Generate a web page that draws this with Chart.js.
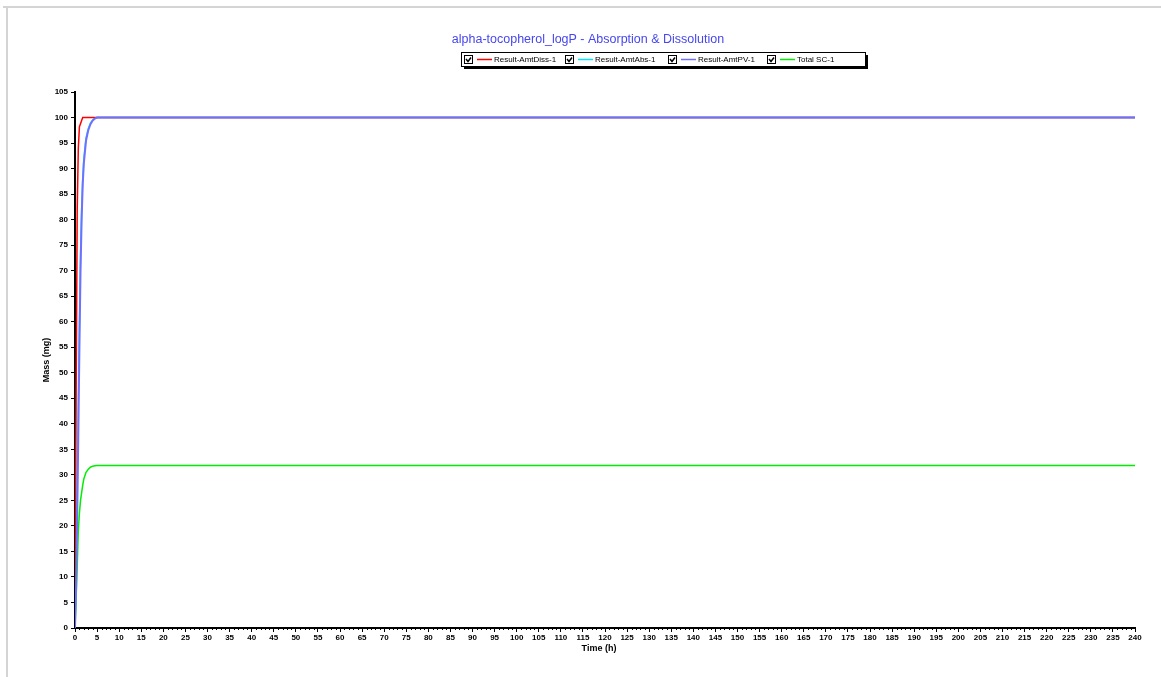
<!DOCTYPE html>
<html>
<head>
<meta charset="utf-8">
<title>alpha-tocopherol_logP - Absorption & Dissolution</title>
<script src="https://cdn.jsdelivr.net/npm/chart.js@4/dist/chart.umd.min.js"></script>
<style>
  html, body { margin: 0; padding: 0; background: #fff; }
  #wrap { width: 1161px; height: 677px; position: relative; }
</style>
</head>
<body>
<div id="wrap"><canvas id="c" width="1161" height="677"></canvas></div>
<script>
// Simulation output (time in hours, mass in mg)
const timeH = [0, 0.25, 0.5, 0.75, 1, 1.25, 1.5, 1.75, 2, 2.5, 3, 3.5, 4, 4.5, 5, 6, 8, 10, 24, 48, 72, 96, 120, 144, 168, 192, 216, 240];
const amtDiss = [0, 45, 82, 94, 98.2, 98.8, 99.4, 100, 100, 100, 100, 100, 100, 100, 100, 100, 100, 100, 100, 100, 100, 100, 100, 100, 100, 100, 100, 100];
const amtAbs  = [0, 12, 28, 45, 60, 73, 82, 88, 92, 96, 97.8, 98.9, 99.5, 99.85, 100, 100, 100, 100, 100, 100, 100, 100, 100, 100, 100, 100, 100, 100];
const amtPV   = [0, 8, 22, 38, 55, 70, 80, 87, 91, 95.5, 97.5, 98.7, 99.4, 99.8, 100, 100, 100, 100, 100, 100, 100, 100, 100, 100, 100, 100, 100, 100];
const totalSC = [0, 6, 12, 19, 22.5, 25, 26.5, 28, 29.2, 30.5, 31.1, 31.5, 31.7, 31.8, 31.85, 31.85, 31.85, 31.85, 31.85, 31.85, 31.85, 31.85, 31.85, 31.85, 31.85, 31.85, 31.85, 31.85];

const seriesNames = ['Result-AmtDiss-1', 'Result-AmtAbs-1', 'Result-AmtPV-1', 'Total SC-1'];
const chartTitle = 'alpha-tocopherol_logP - Absorption & Dissolution';
const xTitle = 'Time (h)';
const yTitle = 'Mass (mg)';

const toPoints = (ys) => timeH.map((t, i) => ({ x: t, y: ys[i] }));

const tickFont = { family: 'Liberation Sans, Arial, sans-serif', size: 8, weight: 'bold' };

// Frame, title, checkbox legend, axis titles and minor ticks
const decorations = {
  id: 'decorations',
  beforeDraw(chart) {
    const ctx = chart.ctx;
    ctx.save();
    ctx.fillStyle = '#fff';
    ctx.fillRect(0, 0, chart.width, chart.height);
    ctx.strokeStyle = '#d4d4d4';
    ctx.lineWidth = 2;
    ctx.beginPath();
    ctx.moveTo(3, 7); ctx.lineTo(chart.width, 7);
    ctx.moveTo(7, 7); ctx.lineTo(7, chart.height);
    ctx.stroke();
    ctx.restore();
  },
  afterDraw(chart) {
    const ctx = chart.ctx;
    const area = chart.chartArea;
    const xs = chart.scales.x;
    ctx.save();

    // title
    ctx.fillStyle = '#4646f0';
    ctx.font = '12.5px "Liberation Sans", Arial, sans-serif';
    ctx.textAlign = 'center';
    ctx.textBaseline = 'middle';
    ctx.fillText(chartTitle, 588, 40);

    // legend box with drop shadow
    const lx = 461, ly = 52, lw = 404, lh = 14;
    ctx.fillStyle = '#000';
    ctx.fillRect(lx + 3, ly + 3, lw, lh);
    ctx.fillStyle = '#fff';
    ctx.fillRect(lx, ly, lw, lh);
    ctx.strokeStyle = '#000';
    ctx.lineWidth = 1;
    ctx.strokeRect(lx + 0.5, ly + 0.5, lw, lh);

    const itemX = [464, 565, 668, 767];
    ctx.font = '8px "Liberation Sans", Arial, sans-serif';
    ctx.textAlign = 'left';
    chart.data.datasets.forEach((ds, i) => {
      const bx = itemX[i], by = ly + 3;
      // checkbox
      ctx.strokeStyle = '#000';
      ctx.lineWidth = 1;
      ctx.strokeRect(bx + 0.5, by + 0.5, 8, 8);
      ctx.lineWidth = 1.5;
      ctx.beginPath();
      ctx.moveTo(bx + 2, by + 4);
      ctx.lineTo(bx + 4, by + 6.5);
      ctx.lineTo(bx + 7, by + 2.5);
      ctx.stroke();
      // line sample
      ctx.strokeStyle = ds.borderColor;
      ctx.lineWidth = 1.5;
      ctx.beginPath();
      ctx.moveTo(bx + 13, ly + 7.5);
      ctx.lineTo(bx + 28, ly + 7.5);
      ctx.stroke();
      ctx.fillStyle = '#000';
      ctx.fillText(ds.label, bx + 30, ly + 8);
    });

    // minor ticks on the time axis
    ctx.strokeStyle = '#000';
    ctx.lineWidth = 1;
    ctx.beginPath();
    for (let t = 0; t <= xs.max; t += 1) {
      if (t % 5 === 0) continue;
      const px = Math.round(xs.getPixelForValue(t)) + 0.5;
      ctx.moveTo(px, area.bottom);
      ctx.lineTo(px, area.bottom + 2);
    }
    ctx.stroke();

    // axis titles
    ctx.fillStyle = '#000';
    ctx.font = 'bold 9px "Liberation Sans", Arial, sans-serif';
    ctx.textAlign = 'center';
    ctx.textBaseline = 'middle';
    ctx.fillText(xTitle, (area.left + area.right) / 2 - 6, 649);
    ctx.translate(47, (area.top + area.bottom) / 2);
    ctx.rotate(-Math.PI / 2);
    ctx.fillText(yTitle, 0, 0);
    ctx.restore();
  }
};

new Chart(document.getElementById('c'), {
  type: 'line',
  data: {
    datasets: [
      { label: seriesNames[0], data: toPoints(amtDiss), borderColor: '#ff0000', borderWidth: 1.5, order: 1 },
      { label: seriesNames[1], data: toPoints(amtAbs), borderColor: '#00e6ff', borderWidth: 1.5, order: 2 },
      { label: seriesNames[2], data: toPoints(amtPV), borderColor: '#7070ff', borderWidth: 2, order: 0 },
      { label: seriesNames[3], data: toPoints(totalSC), borderColor: '#00ee00', borderWidth: 1.5, order: 3 }
    ]
  },
  options: {
    responsive: false,
    animation: false,
    events: [],
    elements: { point: { radius: 0 }, line: { tension: 0, fill: false } },
    layout: { padding: { left: 0, right: 26, top: 92, bottom: 0 } },
    plugins: { legend: { display: false }, title: { display: false }, tooltip: { enabled: false } },
    scales: {
      x: {
        type: 'linear',
        min: 0,
        max: 240,
        afterFit: (s) => { s.height = 49; },
        border: { color: '#000', width: 2 },
        grid: { drawOnChartArea: false, color: '#000', tickLength: 4 },
        ticks: { stepSize: 5, color: '#000', font: tickFont, padding: 1, maxRotation: 0, autoSkip: false }
      },
      y: {
        type: 'linear',
        min: 0,
        max: 105,
        afterFit: (s) => { s.width = 75; },
        border: { color: '#000', width: 2 },
        grid: { drawOnChartArea: false, color: '#000', tickLength: 4 },
        ticks: { stepSize: 5, color: '#000', font: tickFont, padding: 3, autoSkip: false }
      }
    }
  },
  plugins: [decorations]
});
</script>
</body>
</html>
